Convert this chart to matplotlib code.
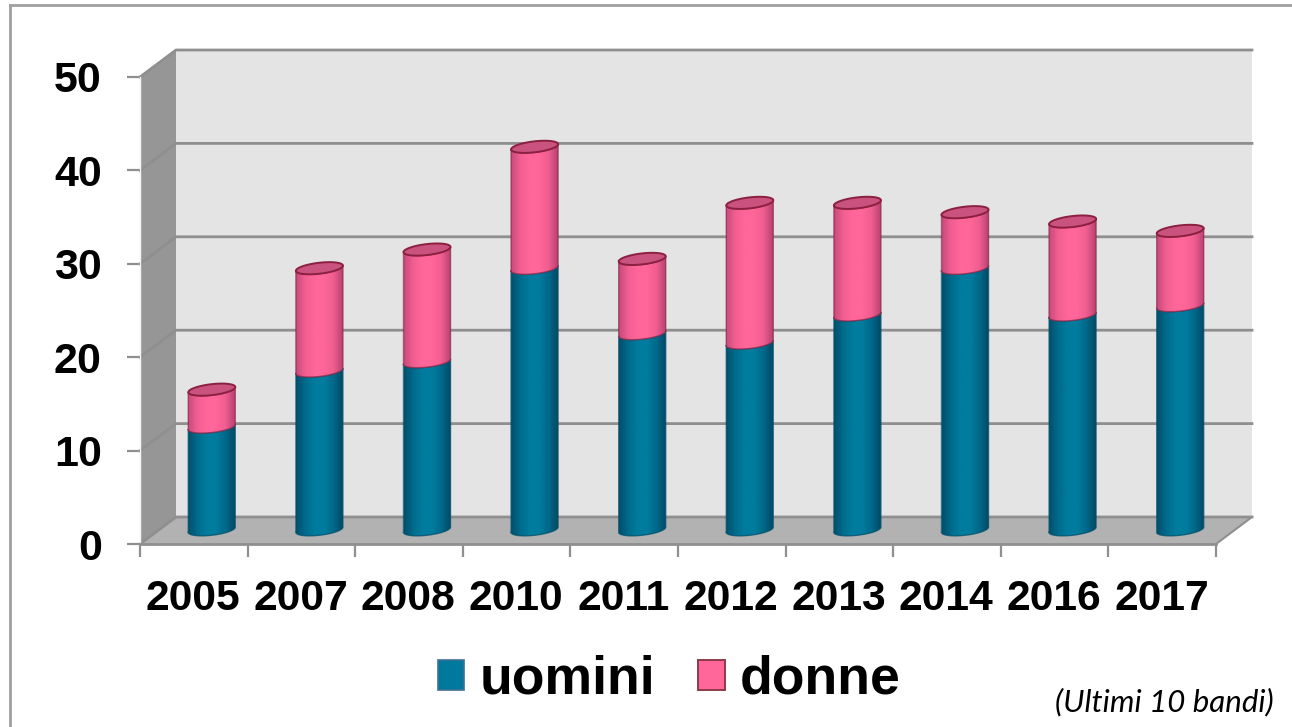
import numpy as np
import matplotlib
matplotlib.use("Agg")
import matplotlib.pyplot as plt
from matplotlib.colors import LinearSegmentedColormap
from matplotlib.lines import Line2D
from matplotlib.patches import Patch, Polygon

years = ["2005", "2007", "2008", "2010", "2011", "2012", "2013", "2014", "2016", "2017"]
uomini = [11, 17, 18, 28, 21, 20, 23, 28, 23, 24]
donne = [4, 11, 12, 13, 8, 15, 12, 6, 10, 8]
y_ticks = [0, 10, 20, 30, 40, 50]

W, H = 1292, 727
plt.rcParams["font.family"] = ["Liberation Sans", "DejaVu Sans"]
fig = plt.figure(figsize=(W / 100, H / 100), dpi=100, facecolor="white")

# front plane of the 3D box, in pixels
L, R, B, T = 140, 1216, 544, 77
ax = fig.add_axes([L / W, 1 - B / H, (R - L) / W, (B - T) / H])
ax.set_xlim(0, 10)
ax.set_ylim(0, 50)
ax.patch.set_visible(False)
for s in ax.spines.values():
    s.set_visible(False)

px = 10 / (R - L)      # data units per pixel, x
py = 50 / (B - T)      # data units per pixel, y
DX, DY = 36 * px, 27 * py   # depth offset of back wall
GRID = "#8f8f8f"

# walls and floor
kw = dict(clip_on=False, zorder=1)
ax.add_patch(Polygon([(DX, DY), (10 + DX, DY), (10 + DX, 50 + DY), (DX, 50 + DY)],
                     fc="#e4e4e4", ec="none", **kw))
ax.add_patch(Polygon([(0, 0), (DX, DY), (DX, 50 + DY), (0, 50)], fc="#969696", ec="none", **kw))
ax.add_patch(Polygon([(0, 0), (10, 0), (10 + DX, DY), (DX, DY)], fc="#b2b2b2", ec="none", **kw))

for v in y_ticks:
    ax.plot([0, DX, 10 + DX], [v, v + DY, v + DY], color=GRID, lw=2, clip_on=False, zorder=2,
            solid_joinstyle="miter")
ax.plot([10, 10 + DX], [0, DY], color=GRID, lw=1.5, clip_on=False, zorder=2)
ax.plot([0, 0], [0, 50], color="#f4f4f4", lw=1, clip_on=False, zorder=2)

# axes and ticks
ax.set_xticks(np.arange(0, 11))
ax.set_xticklabels([])
ax.set_yticks(y_ticks)
ax.tick_params(axis="x", length=9.5, width=1.6, color=GRID, bottom=True)
ax.tick_params(axis="y", length=9.5, width=1.6, color=GRID, left=True, pad=18)
for lab in ax.get_yticklabels():
    lab.set_fontsize(31)
    lab.set_fontweight("bold")
ax.plot([0, 10], [0, 0], color=GRID, lw=2, clip_on=False, zorder=2)
for i, y in enumerate(years):
    ax.annotate(y, (i + 0.5, 0), xytext=(-0.5, -25), textcoords="offset points", ha="center",
                va="top", fontsize=30.7, fontweight="bold", color="black")

# cylinders
teal = LinearSegmentedColormap.from_list(
    "teal", ["#00506c", "#006c8c", "#007c9e", "#007c9e", "#00698a", "#004a66"])
pink = LinearSegmentedColormap.from_list(
    "pink3", ["#c94a7c", "#f25f92", "#ff6699", "#ff6699", "#f05e90", "#b84272"])
grad = np.linspace(0, 1, 128).reshape(1, -1)
rx, ry = 23.5 * px, 5.5 * py
tilt = 2.6 * py


def ell(cx, cy, t):
    return cx + rx * np.cos(t), cy + ry * np.sin(t) + tilt * np.cos(t)


def cylinder(cx, y0, y1, cmap, edge, z):
    t_front = np.linspace(np.pi, 2 * np.pi, 60)
    xb, yb = ell(cx, y0, t_front)
    xt, yt = ell(cx, y1, t_front[::-1])
    poly = Polygon(np.c_[np.r_[xb, xt], np.r_[yb, yt]], closed=True, transform=ax.transData,
                   fc="none", ec="none")
    ax.add_patch(poly)
    poly.set_clip_on(False)
    im = ax.imshow(grad, cmap=cmap, extent=(cx - rx, cx + rx, y0 - 2, y1 + 2), aspect="auto",
                   zorder=z, interpolation="bilinear")
    im.set_clip_path(poly)
    ax.plot(np.r_[xb, xt, xb[0]], np.r_[yb, yt, yb[0]], color=edge, lw=1.0, zorder=z + 0.1,
            clip_on=False, alpha=0.75)


base = DY / 2 + 0.08
shift = DX / 2
for i, (u, d) in enumerate(zip(uomini, donne)):
    cx = i + 0.5 + shift
    cylinder(cx, base, base + u, teal, "#00506c", 3 + i * 0.01)
    cylinder(cx, base + u, base + u + d, pink, "#8c2a4c", 4 + i * 0.01)
    tt = np.linspace(0, 2 * np.pi, 90)
    xe, ye = ell(cx, base + u + d, tt)
    ax.fill(xe, ye, fc="#c9527f", ec="#8c2040", lw=1.4, zorder=5 + i * 0.01, clip_on=False)

ax.set_xlim(0, 10)
ax.set_ylim(0, 50)

# legend
handles = [Patch(fc="#007a9c", ec="#3f6f98", lw=1.2, label="uomini"),
           Patch(fc="#ff6699", ec="#8c3a4a", lw=1.4, label="donne")]
leg = fig.legend(handles=handles, loc="center", bbox_to_anchor=(669 / W, 1 - 680 / H), ncol=2,
                 frameon=False, handlelength=0.5, handleheight=0.5, handletextpad=0.28,
                 columnspacing=0.8, prop=dict(size=38.5, weight="bold"))

fig.text(1274 / W, 1 - 702 / H, "(Ultimi 10 bandi)", ha="right", va="center", fontsize=22.5,
         style="italic", family=["Lato", "DejaVu Sans"], color="black")

# outer frame
fr = dict(color="#a0a0a0", lw=2, transform=fig.transFigure)
fig.add_artist(Line2D([10 / W, 10 / W], [0, 1 - 5 / H], **fr))
fig.add_artist(Line2D([10 / W, 1], [1 - 5 / H, 1 - 5 / H], **fr))

fig.savefig("out.png", dpi=100)
